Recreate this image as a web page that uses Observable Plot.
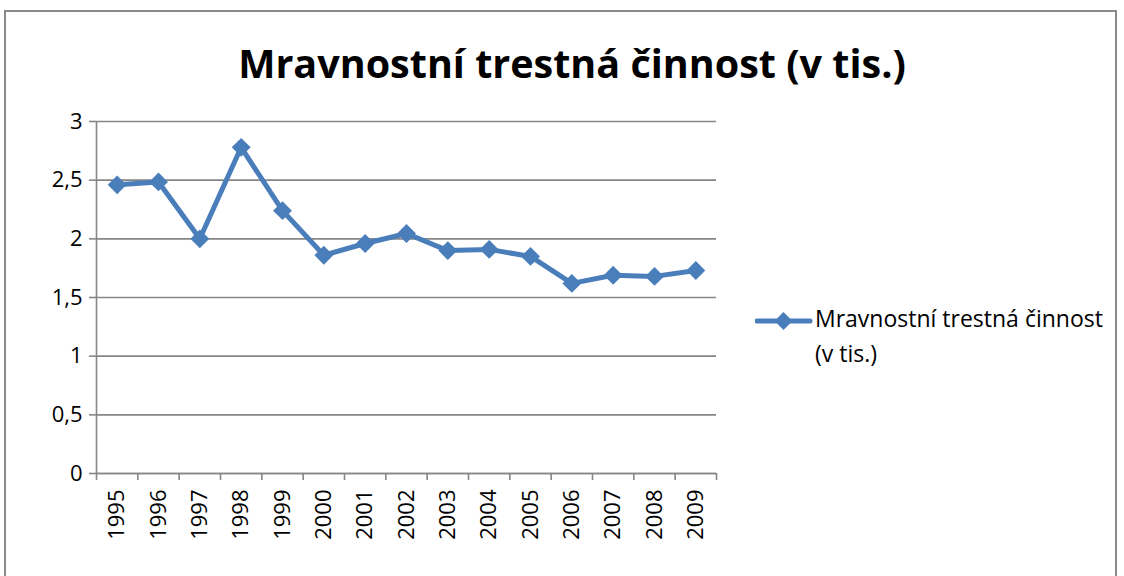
<!DOCTYPE html>
<html>
<head>
<meta charset="utf-8">
<script src="https://cdn.jsdelivr.net/npm/d3@7"></script>
<script src="https://cdn.jsdelivr.net/npm/@observablehq/plot@0.6"></script>
<style>
  html, body { margin: 0; padding: 0; background: #fff; overflow: hidden; }
  #wrap { position: relative; width: 1124px; height: 576px; font-family: "Open Sans", sans-serif; }
  #border { position: absolute; left: 4px; top: 10px; width: 1113px; height: 600px; border: 2px solid #8a8a8a; box-sizing: border-box; }
  #title { position: absolute; left: 0; width: 1144px; top: 36px; text-align: center; font-size: 39.5px; font-weight: 700; color: #000; white-space: nowrap; }
  #chart { position: absolute; left: 0; top: 0; }
  #legend { position: absolute; left: 755px; top: 303px; }
  #legend svg { position: absolute; left: 0; top: 6px; }
  #legend .txt { position: absolute; left: 60px; top: -2px; font-size: 23px; line-height: 35px; white-space: nowrap; color: #000; }
</style>
</head>
<body>
<div id="wrap">
  <div id="border"></div>
  <div id="chart"></div>
  <div id="title"></div>
  <div id="legend"></div>
</div>
<script>
const title = "Mravnostní trestná činnost (v tis.)";
const legendLines = ["Mravnostní trestná činnost", "(v tis.)"];
const years = [1995, 1996, 1997, 1998, 1999, 2000, 2001, 2002, 2003, 2004, 2005, 2006, 2007, 2008, 2009];
const values = [2.46, 2.485, 2.0, 2.78, 2.24, 1.86, 1.96, 2.045, 1.90, 1.91, 1.85, 1.62, 1.69, 1.68, 1.73];
const yTicks = [0, 0.5, 1, 1.5, 2, 2.5, 3];

const data = years.map((year, i) => ({year, value: values[i]}));
const boundaries = [years[0] - 0.5, ...years.map(y => y + 0.5)];
const lineColor = "#4A7EBB";
const gridColor = "#868686";

document.getElementById("title").textContent = title;

const chart = Plot.plot({
  width: 1124,
  height: 576,
  marginLeft: 96,
  marginRight: 408,
  marginTop: 121,
  marginBottom: 103,
  x: {type: "linear", domain: [boundaries[0], boundaries[boundaries.length - 1]]},
  y: {domain: [0, 3]},
  style: {fontFamily: "Open Sans, sans-serif", fontSize: "22px", color: "#000", background: "transparent"},
  marks: [
    Plot.gridY(yTicks, {stroke: gridColor, strokeOpacity: 1, strokeWidth: 1.6}),
    Plot.ruleX([boundaries[0]], {stroke: gridColor, strokeWidth: 1.6}),
    Plot.ruleY([0], {stroke: gridColor, strokeWidth: 1.6}),
    Plot.axisY(yTicks, {tickSize: 7, tickPadding: 7, stroke: gridColor, strokeWidth: 1.6, tickFormat: d => String(d).replace(".", ","), label: null, fontSize: 22}),
    Plot.axisX(boundaries, {tickSize: 7, stroke: gridColor, strokeWidth: 1.6, tickFormat: () => "", label: null}),
    Plot.axisX(years, {tickSize: 0, tickPadding: 16, tickRotate: -90, tickFormat: d => String(d), label: null, fontSize: 22}),
    Plot.line(data, {x: "year", y: "value", stroke: lineColor, strokeWidth: 5}),
    Plot.dot(data, {x: "year", y: "value", symbol: "diamond2", r: 8.5, fill: lineColor, stroke: "none"})
  ]
});
document.getElementById("chart").appendChild(chart);

const legend = document.getElementById("legend");
legend.innerHTML = `<svg width="60" height="24">
  <line x1="2" x2="55" y1="12" y2="12" stroke="${lineColor}" stroke-width="5" stroke-linecap="round"/>
  <path d="M28.5,3 L37.5,12 L28.5,21 L19.5,12 Z" fill="${lineColor}"/>
</svg><div class="txt">${legendLines.join("<br>")}</div>`;
</script>
</body>
</html>
